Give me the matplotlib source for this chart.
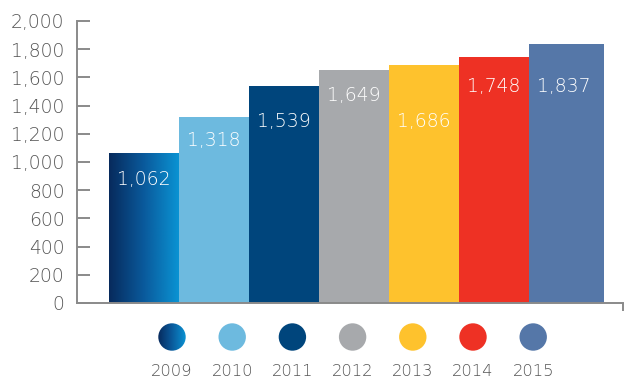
import matplotlib
matplotlib.use("Agg")
import matplotlib.pyplot as plt
import numpy as np
from matplotlib.patches import Circle
from matplotlib.colors import LinearSegmentedColormap

years = ["2009", "2010", "2011", "2012", "2013", "2014", "2015"]
values = [1062, 1318, 1539, 1649, 1686, 1748, 1837]
value_labels = ["1,062", "1,318", "1,539", "1,649", "1,686", "1,748", "1,837"]
label_y = [879, 1156, 1284, 1475, 1284, 1532, 1532]
colors = [None, "#6dbadf", "#00457c", "#a7a9ac", "#fec22d", "#ee3124", "#5577a8"]
widths = [1, 1, 1, 1, 1, 1, 1.07]
yticks = [0, 200, 400, 600, 800, 1000, 1200, 1400, 1600, 1800, 2000]
ytick_labels = ["0", "200", "400", "600", "800", "1,000", "1,200", "1,400", "1,600", "1,800", "2,000"]

grad_cmap = LinearSegmentedColormap.from_list("g", ["#072a5c", "#0a5a9c", "#0a93d3"])

FONT = "DejaVu Sans"
WT = "light"
TXT = "#555555"
AX = "#8a8a8a"

W, H = 635, 379
fig = plt.figure(figsize=(W / 100, H / 100), dpi=100)
ax = fig.add_axes([77 / W, 1 - 303 / H, (623 - 77) / W, (303 - 21) / H])

x = np.arange(len(years))
lefts = x - 0.5
bars = ax.bar(lefts, values, width=widths, align="edge",
              color=[c if c else "none" for c in colors], linewidth=0, zorder=2)

# gradient for the first bar
b0 = bars[0]
grad = np.linspace(0, 1, 256).reshape(1, -1)
im = ax.imshow(grad, cmap=grad_cmap, aspect="auto",
               extent=[b0.get_x(), b0.get_x() + b0.get_width(), 0, b0.get_height()],
               zorder=2)
im.set_clip_path(b0)

for xi, ly, lab in zip(x, label_y, value_labels):
    ax.text(xi, ly, lab, ha="center", va="center", color="white",
            fontsize=13.5, family=FONT, fontweight=WT, zorder=3)

ax.set_xlim(-0.957, 6.843)
ax.set_ylim(0, 2000)
ax.set_yticks(yticks)
ax.set_yticklabels(ytick_labels, family=FONT, fontsize=13.5, color=TXT, fontweight=WT)
ax.set_xticks([6.843])
ax.set_xticklabels([""])
ax.tick_params(axis="y", direction="in", length=9.4, width=1.4, color=AX, pad=9)
ax.tick_params(axis="x", direction="out", length=6, width=1.4, color=AX)
for s in ["top", "right"]:
    ax.spines[s].set_visible(False)
for s in ["left", "bottom"]:
    ax.spines[s].set_color(AX)
    ax.spines[s].set_linewidth(1.4)
ax.spines["bottom"].set_zorder(4)

# legend in pixel coordinates
lax = fig.add_axes([0, 0, 1, 1], zorder=-1)
lax.axis("off")
for i, yr in enumerate(years):
    cx = 172 + 60.2 * i
    cy = 337
    circ = Circle((cx, cy), 13.7, facecolor=colors[i] if colors[i] else "none", linewidth=0)
    lax.add_patch(circ)
    if colors[i] is None:
        gim = lax.imshow(grad, cmap=grad_cmap, aspect="auto",
                         extent=[cx - 14, cx + 14, cy + 14, cy - 14])
        gim.set_clip_path(circ)
    lax.text(cx, 375.5, yr, ha="center", va="baseline", color=TXT,
             fontsize=11.8, family=FONT, fontweight=WT)
lax.set_xlim(0, W)
lax.set_ylim(H, 0)

fig.savefig("out.png", dpi=100)
